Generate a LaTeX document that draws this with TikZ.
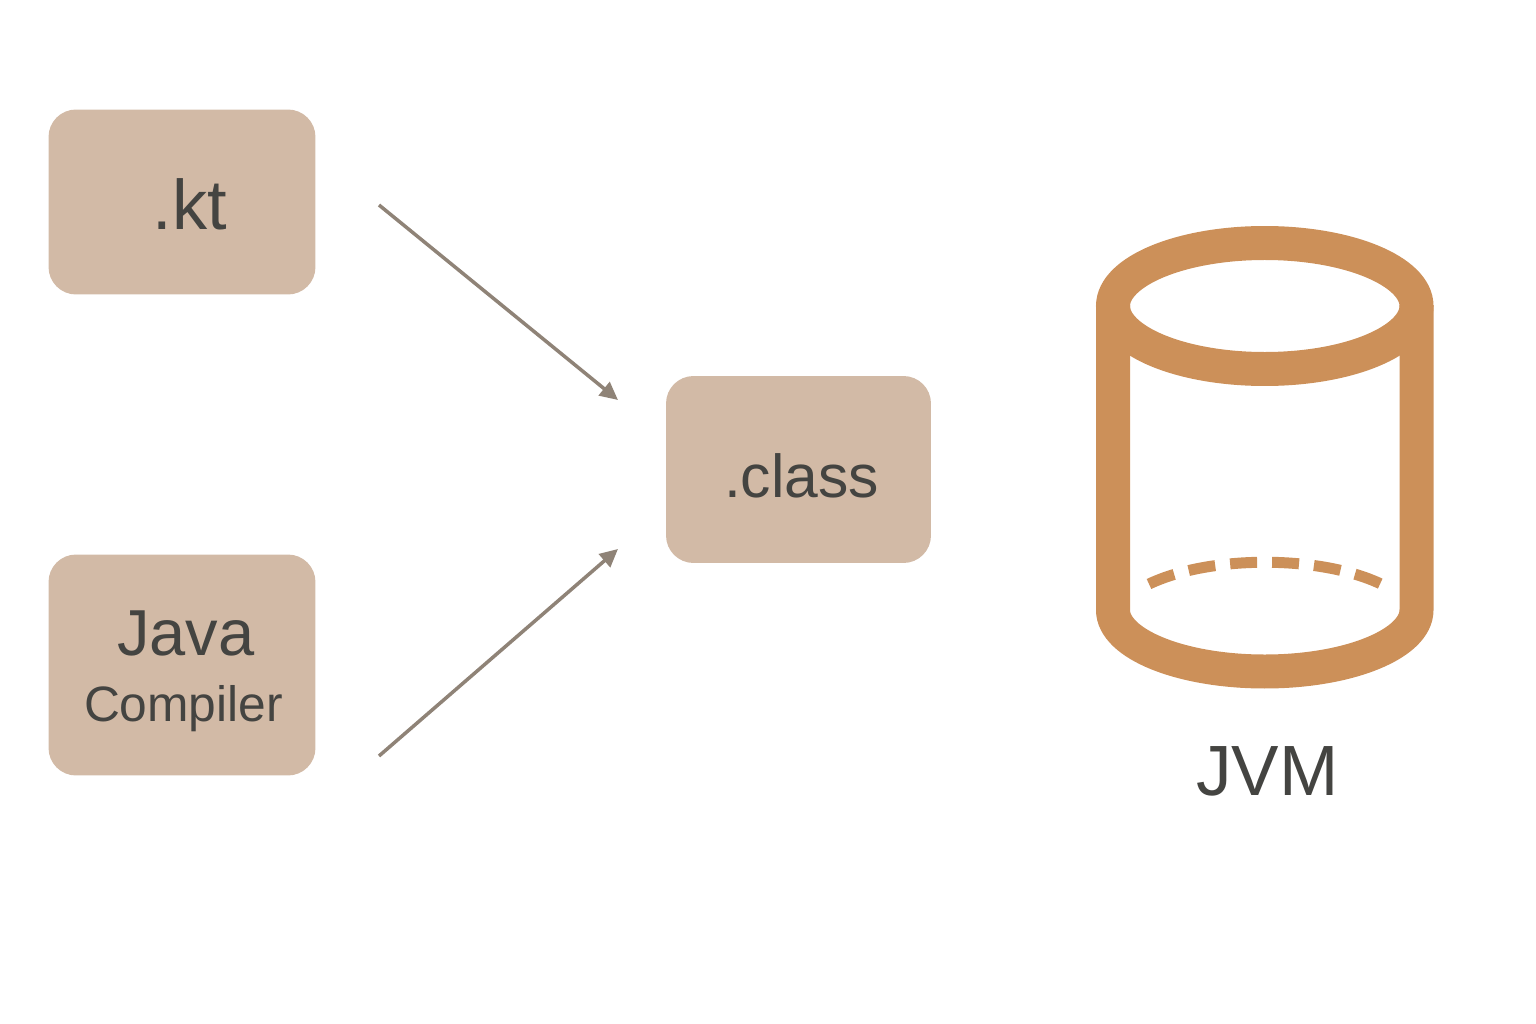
\documentclass[tikz,border=0pt]{standalone}
\usepackage{fontspec}
\setmainfont{Liberation Sans}
\usetikzlibrary{positioning,calc,arrows.meta}
\definecolor{boxtan}{HTML}{D2BAA6}
\definecolor{drumtan}{HTML}{CC9059}
\definecolor{linegrey}{HTML}{8F8377}
\definecolor{textgrey}{HTML}{444441}

\begin{document}
\begin{tikzpicture}[x=0.02cm, y=-0.02cm, >={Triangle[length=3.6mm,width=3.4mm]}, main/.style = {rounded corners=0.55cm, fill=boxtan, text=textgrey, minimum width=5.34cm, minimum height=3.7cm, inner sep=0pt, align=center}, flow/.style = {->, draw=linegrey, line width=2pt}, drum/.style = {draw=drumtan, line width=0.68cm}]

\useasboundingbox (0,0) rectangle (1536,1024);

\node[main, font=\fontsize{40}{40}\selectfont] (kt) at (182,202) {\rule{0pt}{1.11cm}\hspace{0.32cm}.kt};
\node[main, minimum height=4.42cm] (java) at (182,665) {{\fontsize{37}{40}\selectfont \rule{0pt}{1.15cm}\hspace{0.16cm}Java}\\[0.56cm]{\fontsize{28.3}{32}\selectfont \hspace{0.06cm}Compiler}};
\node[main, minimum width=5.3cm, minimum height=3.74cm, font=\fontsize{34.5}{35}\selectfont] (class) at (798.5,469.5) {\rule{0pt}{1.15cm}\hspace{0.12cm}.class};

\coordinate (kt end) at (379,205);
\coordinate (java end) at (379,756);
\coordinate (class top) at (618,400);
\coordinate (class low) at (618,549);

\draw[flow] (kt end) -- (class top);
\draw[flow] (java end) -- (class low);

% drum
\draw[drum] (1113,305) -- (1113,610) arc[start angle=180, end angle=0, x radius=151.75, y radius=61.5] -- (1416.5,305);
\draw[drum] (1264.75,306) ellipse (151.75 and 63);
\draw[draw=drumtan, line width=0.22cm, dash pattern=on 0.54cm off 0.30cm] (1149,584) .. controls (1210,555) and (1320,555) .. (1381,584);

\node[text=textgrey, font=\fontsize{40.5}{41}\selectfont] (jvm) at (1267.5,771) {JVM};
\end{tikzpicture}
\end{document}
